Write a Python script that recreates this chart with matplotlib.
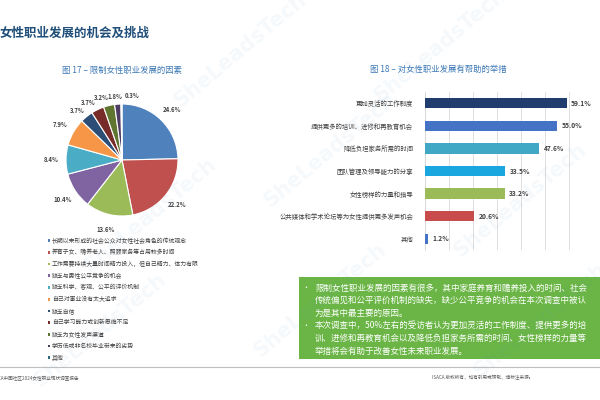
import numpy as np
import matplotlib
matplotlib.use('Agg')
import matplotlib.pyplot as plt
from matplotlib.patches import Rectangle

plt.rcParams['font.family'] = ['Noto Sans CJK SC', 'DejaVu Sans']

# figure 17 - pie
pie_labels = [
    '长期以来形成的社会公众对女性社会角色的传统观念',
    '养育子女、赡养老人、照顾家务等占用较多时间',
    '工作需要持续大量时间精力投入，但自己精力、体力有限',
    '缺乏与男性公平竞争的机会',
    '缺乏科学、客观、公平的评价机制',
    '自己对事业没有太大追求',
    '缺乏自信',
    '自己学习能力或创新思维不足',
    '缺乏为女性发声渠道',
    '学历低或非名校毕业带来的劣势',
    '其他',
]
pie_values = [24.6, 22.2, 13.6, 10.4, 8.4, 7.9, 3.7, 3.7, 3.2, 1.8, 0.3]
pie_colors = ['#4F81BD', '#C0504D', '#9BBB59', '#8064A2', '#4BACC6', '#F79646',
              '#2C4D75', '#772C2A', '#5F7530', '#4D3B62', '#276A7C']

# figure 18 - bars
bar_labels = [
    '更加灵活的工作制度',
    '提供更多的培训、进修和再教育机会',
    '降低负担家务所需的时间',
    '团队管理及领导能力的分享',
    '女性榜样的力量和指导',
    '公共媒体和学术论坛等为女性提供更多发声机会',
    '其他',
]
bar_values = [59.1, 55.0, 47.6, 33.5, 33.2, 20.6, 1.2]
bar_colors = ['#203D6E', '#4472C4', '#40A8C4', '#1AA7E0', '#9BBB59', '#C94C4C', '#4472C4']

box_lines = [
    ('•', '限制女性职业发展的因素有很多，其中家庭养育和赡养投入的时间、社会'),
    ('', '传统偏见和公平评价机制的缺失，缺少公平竞争的机会在本次调查中被认'),
    ('', '为是其中最主要的原因。'),
    ('•', '本次调查中，50%左右的受访者认为更加灵活的工作制度、提供更多的培'),
    ('', '训、进修和再教育机会以及降低负担家务所需的时间、女性榜样的力量等'),
    ('', '举措将会有助于改善女性未来职业发展。'),
]

W, H = 600, 400


def fx(x):
    return x / W


def fy(y):
    return 1 - y / H


fig = plt.figure(figsize=(6, 4), dpi=100)
fig.patch.set_facecolor('white')

# faint watermarks
for wx, wy in [(240, 50), (440, 45), (330, 150), (520, 200),
               (150, 215), (320, 300), (100, 330), (540, 320)]:
    fig.text(fx(wx), fy(wy), 'SheLeadsTech', rotation=40, fontsize=15, fontweight='bold',
             color='#5B9BD5', alpha=0.06, ha='center', va='center', family='DejaVu Sans')

# headings
fig.text(fx(0), fy(33), '女性职业发展的机会及挑战', fontsize=9, fontweight='bold',
         color='#1F4E79', ha='left', va='center')
fig.text(fx(122), fy(70), '图 17 – 限制女性职业发展的因素', fontsize=6,
         color='#3B78B5', ha='center', va='center')
fig.text(fx(438), fy(69), '图 18 – 对女性职业发展有帮助的举措', fontsize=6,
         color='#3B78B5', ha='center', va='center')

# pie
r_px = 56
cx, cy = 122, 160
ax1 = fig.add_axes([fx(cx - r_px), fy(cy + r_px), 2 * r_px / W, 2 * r_px / H])
wedges, _ = ax1.pie(pie_values, colors=pie_colors, startangle=90, counterclock=False,
                    wedgeprops=dict(edgecolor='white', linewidth=0.8))
ax1.set_xlim(-1, 1)
ax1.set_ylim(-1, 1)
ax1.set_aspect('equal')
ax1.axis('off')

# small nudges (px) for the crowded labels at the top
nudges = [(0, 0)] * 6 + [(-2, -3), (-4, -4), (-5, -4), (-2, -5), (11, -4)]
for w, v, (dx, dy) in zip(wedges, pie_values, nudges):
    ang = np.deg2rad((w.theta1 + w.theta2) / 2)
    rr = 1.27 if v > 5 else 1.22
    x = rr * np.cos(ang) + dx / r_px
    y = rr * np.sin(ang) + dy / r_px
    ax1.text(x, y, f'{v:.1f}%', fontsize=4.3, fontweight='bold', color='#404040',
             ha='center', va='center', clip_on=False)

# pie legend
for i, (lab, col) in enumerate(zip(pie_labels, pie_colors)):
    yy = 240.7 + i * 11.7
    fig.patches.append(Rectangle((fx(47.5), fy(yy) - 1.3 / H), 2.6 / W, 2.6 / H,
                                 transform=fig.transFigure, facecolor=col, edgecolor='none'))
    fig.text(fx(52), fy(yy), lab, fontsize=4.2, color='#404040', ha='left', va='center')

# bars
ax2 = fig.add_axes([fx(425), fy(250), 168 / W, 158 / H])
ypos = np.arange(len(bar_values))
ax2.barh(ypos, bar_values, height=0.46, color=bar_colors, zorder=3)
ax2.set_xlim(0, 70)
ax2.set_ylim(len(bar_values) - 0.5, -0.5)
ax2.set_xticks(np.arange(0, 71, 10))
ax2.xaxis.grid(True, color='#D9D9D9', linewidth=0.6, zorder=0)
ax2.tick_params(axis='x', bottom=False, labelbottom=False)
ax2.tick_params(axis='y', left=False, pad=5)
ax2.set_yticks(ypos)
ax2.set_yticklabels(bar_labels, fontsize=4.6, color='#404040')
for s in ['top', 'right', 'bottom']:
    ax2.spines[s].set_visible(False)
ax2.spines['left'].set_color('#D9D9D9')
ax2.spines['left'].set_linewidth(0.6)
for yv, v in zip(ypos, bar_values):
    ax2.text(v + 1.8, yv, f'{v:.1f}%', fontsize=4.8, fontweight='bold', color='#404040',
             ha='left', va='center')

# green summary box
fig.patches.append(Rectangle((fx(299), fy(359)), (W - 299) / W, 82 / H,
                             transform=fig.transFigure, facecolor='#6AB545', edgecolor='none'))
for i, (bul, line) in enumerate(box_lines):
    yy = 288 + i * 12.6
    if bul:
        fig.text(fx(302), fy(yy), bul, fontsize=5, color='white', ha='left', va='center')
    fig.text(fx(315), fy(yy), line, fontsize=6.1, color='white', ha='left', va='center')

# footer
fig.add_artist(plt.Line2D([0, 1], [fy(367), fy(367)], transform=fig.transFigure,
                          color='#BFBFBF', linewidth=0.8))
fig.text(fx(-8), fy(378), 'ISACA中国社区2024女性职业现状调查报告', fontsize=3.3,
         color='#595959', ha='left', va='center')
fig.text(fx(432), fy(378), 'ISACA 版权所有，如有引用或转载，请标注来源。', fontsize=3.3,
         color='#595959', ha='left', va='center')

fig.savefig('out.png', dpi=100)
